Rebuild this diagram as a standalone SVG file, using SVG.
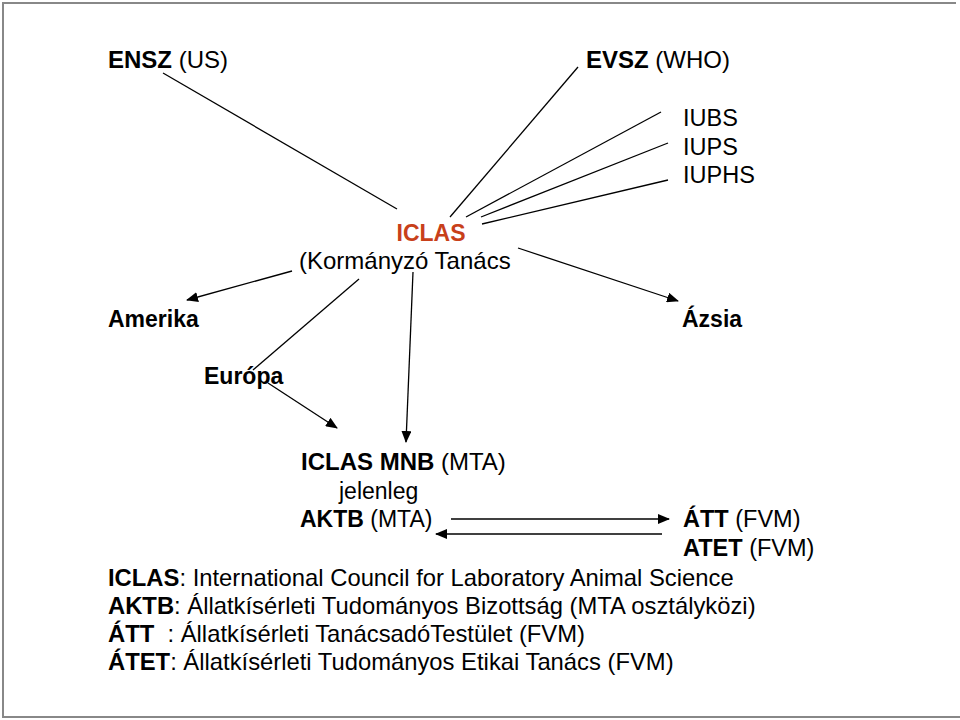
<svg xmlns="http://www.w3.org/2000/svg" width="960" height="720" viewBox="0 0 960 720">
<style>
text{font-family:"Liberation Sans",Arial,Helvetica,sans-serif;font-size:23px;fill:#000}
.b{font-weight:bold}
.red{fill:#c8401a}
.lg{font-size:23.8px}
.m{font-size:24px}
.s{font-size:23.5px}
.ln{stroke:#000;stroke-width:1.3;fill:none}
.ar{stroke:#000;stroke-width:1.3;fill:none;marker-end:url(#ah)}
</style>
<defs>
<marker id="ah" viewBox="0 0 12 10" refX="11" refY="5" markerWidth="12" markerHeight="10" markerUnits="userSpaceOnUse" orient="auto">
<path d="M0,0 L12,5 L0,10 Z" fill="#000"/>
</marker>
</defs>
<rect width="960" height="720" fill="#fff"/>
<path d="M956,3 H3 V717 H960" fill="none" stroke="#888" stroke-width="2"/>
<g id="connectors">
<line class="ln" x1="163" y1="73" x2="397" y2="209"/>
<line class="ln" x1="578" y1="67" x2="450" y2="217"/>
<line class="ln" x1="661" y1="112" x2="466" y2="217"/>
<line class="ln" x1="668" y1="143" x2="481" y2="217"/>
<line class="ln" x1="668" y1="180" x2="482" y2="224"/>
<line class="ar" x1="518" y1="248" x2="678" y2="301"/>
<line class="ar" x1="292" y1="271" x2="187" y2="300"/>
<line class="ln" x1="359" y1="279" x2="253" y2="370"/>
<line class="ar" x1="268" y1="383" x2="337" y2="428"/>
<line class="ar" x1="413" y1="272" x2="406" y2="442"/>
<line class="ar" x1="451" y1="519" x2="669" y2="519"/>
<line class="ar" x1="662" y1="534" x2="436" y2="534"/>
</g>
<g id="ensz"><text x="108" y="68" class="m"><tspan class="b">ENSZ</tspan> (US)</text></g>
<g id="evsz"><text x="586" y="68" class="m"><tspan class="b">EVSZ</tspan> (WHO)</text></g>
<g id="iu"><text x="683" y="126" class="s">IUBS</text><text x="683" y="155" class="s">IUPS</text><text x="683" y="183" class="s">IUPHS</text></g>
<g id="iclas"><text x="431" y="241" text-anchor="middle" class="b red">ICLAS</text><text x="299" y="269" class="m">(Kormányzó Tanács</text></g>
<g id="amerika"><text x="108" y="327" class="b">Amerika</text></g>
<g id="europa"><text x="204" y="384" class="b">Európa</text></g>
<g id="azsia"><text x="682" y="327" class="b">Ázsia</text></g>
<g id="mnb"><text x="301" y="470" class="m"><tspan class="b">ICLAS MNB</tspan> (MTA)</text><text x="339" y="499">jelenleg</text><text x="300" y="527"><tspan class="b">AKTB</tspan> (MTA)</text></g>
<g id="att"><text x="683" y="527" class="s"><tspan class="b">ÁTT</tspan> (FVM)</text><text x="683" y="556" class="s"><tspan class="b">ATET</tspan> (FVM)</text></g>
<g id="legend">
<text x="108" y="586" class="lg"><tspan class="b">ICLAS</tspan>: International Council for Laboratory Animal Science</text>
<text x="108" y="614" class="lg"><tspan class="b">AKTB</tspan>: Állatkísérleti Tudományos Bizottság (MTA osztályközi)</text>
<text x="108" y="642" class="lg" xml:space="preserve"><tspan class="b">ÁTT</tspan>  : Állatkísérleti TanácsadóTestület (FVM)</text>
<text x="108" y="670" class="lg"><tspan class="b">ÁTET</tspan>: Állatkísérleti Tudományos Etikai Tanács (FVM)</text>
</g>
</svg>
